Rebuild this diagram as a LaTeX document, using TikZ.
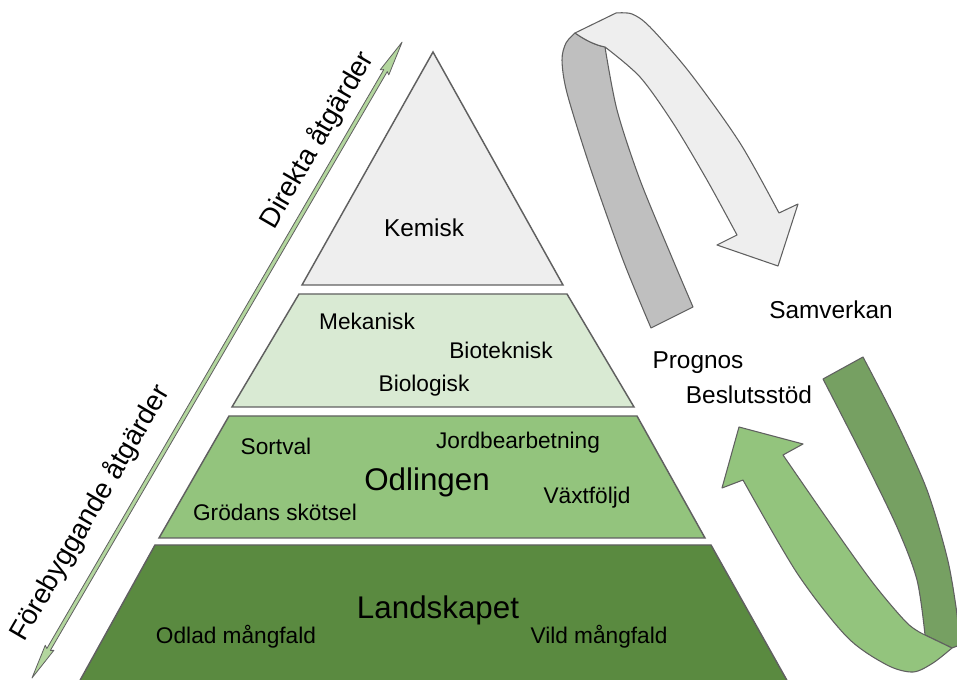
\documentclass[tikz,border=0pt]{standalone}
\usepackage{fontspec}
\setmainfont{Liberation Sans}
\usetikzlibrary{positioning}
\definecolor{TopGray}{HTML}{EEEEEE}
\definecolor{PaleGreen}{HTML}{D9EAD3}
\definecolor{MidGreen}{HTML}{93C47D}
\definecolor{DeepGreen}{HTML}{5A8A40}
\definecolor{RibbonGray}{HTML}{BFBFBF}
\definecolor{RibbonGreen}{HTML}{76A062}
\definecolor{AxisGreen}{HTML}{B3D69E}
\definecolor{EdgeGray}{HTML}{606060}

\begin{document}
\begin{tikzpicture}[x=0.75pt, y=-0.75pt,
    layer/.style={draw=EdgeGray, line width=1.1pt},
    ribbon/.style={draw=EdgeGray, line width=0.8pt, line join=round},
    small/.style={font=\fontsize{17}{20}\selectfont, inner sep=0pt},
    medium/.style={font=\fontsize{18.3}{22}\selectfont, inner sep=0pt},
    big/.style={font=\fontsize{23.5}{28}\selectfont, inner sep=0pt},
    slanted/.style={font=\fontsize{20.8}{25}\selectfont, inner sep=0pt, rotate=59.8}]
  \useasboundingbox (0,0) rectangle (957,680);
  \clip (0,0) rectangle (957,680);
  % Pyramid
  \filldraw[layer, fill=TopGray] (433,52) -- (563,285) -- (302,285) -- cycle;
  \filldraw[layer, fill=PaleGreen] (299,294) -- (567,294) -- (634,407) -- (232,407) -- cycle;
  \filldraw[layer, fill=MidGreen] (229,416) -- (637,416) -- (705,538) -- (159,538) -- cycle;
  \filldraw[layer, fill=DeepGreen] (155,545) -- (711,545) -- (789,684) -- (78,684) -- cycle;
  % Axis
  \begin{scope}[shift={(32,678)}, rotate=59.8]
    \filldraw[ribbon, fill=AxisGreen, line width=0.6pt] (0,0) -- (35,5) -- (33,2) -- (702.8,2)
      -- (700.8,5) -- (735.8,0) -- (700.8,-5) -- (702.8,-2) -- (33,-2) -- (35,-5) -- cycle;
  \end{scope}
  % Upper ribbon
  \filldraw[ribbon, fill=RibbonGray] plot[smooth] coordinates {(651,328) (623,260) (590,167) (567,93) (562,60) (566,43) (575,33)}
    .. controls (585,40) and (595,45) .. (605,47)
    -- plot[smooth] coordinates {(605,47) (617,110) (640,180) (673,260) (693,307)} -- cycle;
  \filldraw[ribbon, fill=TopGray] (575,33) -- (616,13)
    -- plot[smooth] coordinates {(616,13) (632,14) (650,27) (690,73) (740,143) (779,213)}
    -- (798,204) -- (778,266) -- (717,245) -- (737,235)
    -- plot[smooth] coordinates {(737,235) (707,180) (673,123) (640,77) (605,47)}
    .. controls (595,45) and (585,40) .. (575,33) -- cycle;
  % Lower ribbon
  \filldraw[ribbon, fill=RibbonGreen] (823,379) -- (863,357)
    -- plot[smooth] coordinates {(863,357) (897,423) (927,490) (947,557) (956,607) (960,645)}
    -- (952,648) -- (925,635)
    -- plot[smooth] coordinates {(925,635) (917,580) (897,527) (863,457) (823,379)} -- cycle;
  \filldraw[ribbon, fill=MidGreen] (925,635) -- (952,648)
    -- plot[smooth] coordinates {(952,648) (933,663) (913,672) (887,665) (847,637) (797,573) (743,480)}
    -- (722,488) -- (739,427) -- (803,444) -- (783,455)
    -- plot[smooth] coordinates {(783,455) (830,523) (873,583) (907,623) (925,635)} -- cycle;
  % Labels
  \node[medium] (kemisk) at (424,228) {Kemisk};
  \node[small] (mekanisk) at (367,321) {Mekanisk};
  \node[small] (bioteknisk) at (501,350) {Bioteknisk};
  \node[small] (biologisk) at (424,386) {Biologisk};
  \node[small] (sortval) at (276,446) {Sortval};
  \node[small] (jordbearbetning) at (518,443) {Jordbearbetning};
  \node[big] (odlingen) at (427,482) {Odlingen};
  \node[small] (vaxtfoljd) at (587,498) {Växtföljd};
  \node[small] (grodans) at (275,512) {Grödans skötsel};
  \node[big] (landskapet) at (438,610) {Landskapet};
  \node[small] (odlad) at (236,637) {Odlad mångfald};
  \node[small] (vild) at (599,637) {Vild mångfald};
  \node[medium] (samverkan) at (831,310) {Samverkan};
  \node[medium] (prognos) at (698,363) {Prognos};
  \node[medium] (beslut) at (749,395) {Beslutsstöd};
  \node[slanted] (direkta) at (317,140) {Direkta åtgärder};
  \node[slanted] (forebygg) at (90,513) {Förebyggande åtgärder};
\end{tikzpicture}
\end{document}
